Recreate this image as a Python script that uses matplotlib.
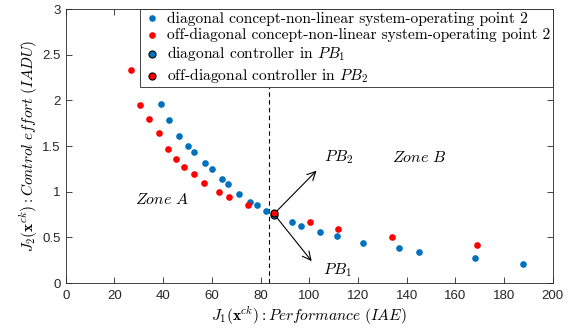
import matplotlib.pyplot as plt

plt.rcParams['mathtext.fontset'] = 'cm'
plt.rcParams['font.family'] = 'Liberation Sans'

# diagonal concept - non-linear system - operating point 2
diag_x = [39.0, 42.3, 46.4, 50.2, 52.6, 57.1, 60.1, 64.2, 66.5, 71.3, 75.7, 78.4,
          82.3, 92.8, 96.6, 104.6, 111.3, 122.0, 136.9, 145.2, 168.2, 187.9]
diag_y = [1.96, 1.79, 1.61, 1.50, 1.43, 1.31, 1.25, 1.14, 1.08, 0.97, 0.89, 0.85,
          0.79, 0.665, 0.62, 0.56, 0.51, 0.44, 0.38, 0.34, 0.27, 0.21]

# off-diagonal concept - non-linear system - operating point 2
off_x = [26.8, 30.5, 34.3, 38.2, 41.9, 45.3, 48.5, 52.6, 56.9, 62.8, 67.2, 74.7,
         100.3, 111.7, 134.0, 169.0]
off_y = [2.33, 1.95, 1.80, 1.64, 1.47, 1.36, 1.27, 1.19, 1.10, 1.00, 0.94, 0.86,
         0.67, 0.595, 0.50, 0.42]

# selected controllers
pb1_pt = (85.4, 0.745)
pb2_pt = (85.4, 0.765)
split_x = 83.3

blue = '#0072BD'
red = '#FF0000'

fig = plt.figure(figsize=(5.74, 3.28), dpi=100)
ax = fig.add_axes([0.1145, 0.137, 0.8485, 0.8355])

ax.axvline(split_x, color='black', linestyle='--', linewidth=0.8, dashes=(4, 3), zorder=1)

ax.scatter(diag_x, diag_y, s=23, color=blue, linewidths=0, zorder=3,
           label='diagonal concept-non-linear system-operating point 2')
ax.scatter(off_x, off_y, s=23, color=red, linewidths=0, zorder=3,
           label='off-diagonal concept-non-linear system-operating point 2')
ax.scatter([pb1_pt[0]], [pb1_pt[1]], s=26, color=blue, edgecolors='black', linewidths=0.8,
           zorder=4, label=r'diagonal controller in $PB_1$')
ax.scatter([pb2_pt[0]], [pb2_pt[1]], s=26, color=red, edgecolors='black', linewidths=0.8,
           zorder=5, label=r'off-diagonal controller in $PB_2$')

arrow = dict(arrowstyle='->', color='black', lw=0.8, shrinkA=0, shrinkB=0,
             mutation_scale=15)
ax.annotate('', xy=(103.0, 1.23), xytext=(86.0, 0.77), arrowprops=arrow)
ax.annotate('', xy=(101.0, 0.24), xytext=(86.0, 0.74), arrowprops=arrow)

ax.text(106, 1.38, r'$PB_2$', fontsize=11.5, va='center')
ax.text(105.5, 0.14, r'$PB_1$', fontsize=11.5, va='center')
ax.text(134, 1.38, r'$Zone\ B$', fontsize=11.5, va='center')
ax.text(28.5, 0.92, r'$Zone\ A$', fontsize=11.5, va='center')

ax.set_xlim(0, 200)
ax.set_ylim(0, 3)
ax.set_xticks(range(0, 201, 20))
ax.set_yticks([0, 0.5, 1, 1.5, 2, 2.5, 3])
ax.set_yticklabels(['0', '0.5', '1', '1.5', '2', '2.5', '3'])
ax.tick_params(direction='in', top=True, right=True, length=4, width=0.6,
               labelsize=9.5, labelcolor='#262626', colors='#262626')
ax.tick_params(axis='x', pad=5)
for sp in ax.spines.values():
    sp.set_linewidth(0.6)
    sp.set_color('#262626')

ax.set_xlabel(r'$J_1(\mathbf{x}^{ck}) : Performance\ (IAE)$', fontsize=11.2, labelpad=2)
ax.set_ylabel(r'$J_2(\mathbf{x}^{ck}) : Control\ effort\ (IADU)$', fontsize=11, labelpad=1.5)

leg = ax.legend(loc='upper right', borderaxespad=0, prop={'family': 'cmr10', 'size': 11.2},
                fancybox=False, framealpha=1, edgecolor='#262626', handletextpad=0.4,
                borderpad=0.15, labelspacing=0.15, handlelength=1.2, scatterpoints=1)
leg.get_frame().set_linewidth(0.6)

fig.savefig('out.png', dpi=100)
